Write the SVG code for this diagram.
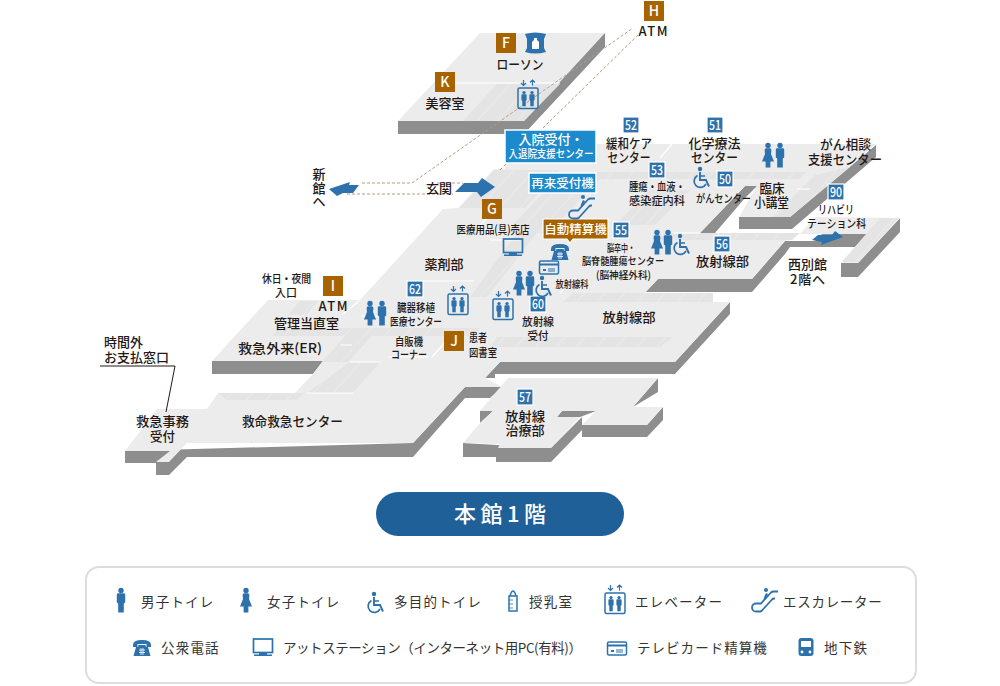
<svg xmlns="http://www.w3.org/2000/svg" xmlns:xlink="http://www.w3.org/1999/xlink" width="1000" height="686" viewBox="0 0 1000 686">
<style>
text{font-family:"Noto Sans CJK JP","Noto Sans",sans-serif;fill:#231815;font-weight:500;text-anchor:middle}
.t{font-size:13px}.s{font-size:11.5px}.xs{font-size:10.5px}
.f{fill:#ececec}.w{fill:#8e8e8e}.h{fill:url(#hatch)}.wl{stroke:#fff;stroke-width:1.2;fill:none}
.b{fill:#a66300;stroke:none}.n{fill:#2d72ad;stroke:#fff;stroke-width:1.2}
text.bt{fill:#fff;font-size:14px}text.nt{fill:#fff;font-size:13.5px}
text.l{font-size:13.5px;letter-spacing:1.2px;text-anchor:start;font-weight:400;fill:#333}
.i{fill:#2d72ad}.is{fill:none;stroke:#2d72ad;stroke-width:1.5}
.d{fill:none;stroke:#b79b86;stroke-width:1;stroke-dasharray:3 2}
</style>
<defs>
<pattern id="hatch" width="15" height="15" patternUnits="userSpaceOnUse" patternTransform="rotate(42)">
<rect width="15" height="15" fill="#e4e4e4"/><path d="M0 0V15" stroke="#efefef" stroke-width="1.2"/>
</pattern>
<g id="man"><circle cy="-9.500" r="2.700" class="i"/><path class="i" d="M-4.200,-5.500Q-4.200,-6.800 -2.800,-6.800H2.800Q4.200,-6.800 4.200,-5.500V2.500L2.800,3.500V12.500H-2.800V3.500L-4.200,2.500Z"/></g>
<g id="woman"><circle cy="-9.500" r="2.700" class="i"/><path class="i" d="M-2,-6.800H2Q3,-6.800 3.400,-5L3,-1L6,6.500H2.400V12.500H-2.400V6.500H-6L-3,-1L-3.400,-5Q-3,-6.800 -2,-6.800Z"/></g>
<g id="wc"><circle cx="-2" cy="-9" r="2.200" class="i"/><path class="is" style="stroke-width:1.900" d="M-2,-6V2H4L7,8.500"/><path class="is" d="M-2,-2H3"/><path class="is" style="stroke-width:1.700" d="M-4.500,-2.500A6.300,6.300 0 1 0 4,6"/></g>
<g id="elev"><rect x="-10" y="-10" width="20" height="20.500" rx="1.500" class="is"/><path class="is" style="stroke-width:1.200" d="M-4.500,-18V-12.500M-7,-15L-4.500,-12.500L-2,-15M4.500,-12.500V-18M2,-15.500L4.500,-18L7,-15.500"/><use xlink:href="#man" transform="translate(-4,0.500) scale(.62)"/><use xlink:href="#man" transform="translate(4,0.500) scale(.62)"/></g>
<g id="esc"><circle cx="1" cy="-10" r="2" class="i"/><path class="is" style="stroke-width:1.800" d="M13,-8.500H8.500Q7,-8.500 6,-7.500L-4,3.500H-9A4,4 0 0 0 -9,11.500H-5Q-4,11.500 -3,10.500L7,-0.500Q8,-1.500 9,-1.500H10"/><path class="i" d="M-1.500,-1.500L1,-7L3,-6L0.500,-0.500Z"/></g>
<g id="phone"><path class="i" d="M-9,-3Q-9,-8 0,-8Q9,-8 9,-3V-1H4.500V-4H-4.500V-1H-9Z"/><path class="i" d="M-6,-1H-4L-3.500,-3H3.500L4,-1H6L8.500,8H-8.500Z"/><path d="M-3,2H3M-3,4.500H3M-1,0V7M1,0V7" stroke="#fff" stroke-width=".8"/></g>
<g id="mon"><rect x="-9.500" y="-8" width="19" height="13.500" class="is" style="stroke-width:1.700"/><path class="i" d="M-4,6H4V7.500H9V9H-9V7.500H-4Z"/></g>
<g id="card"><rect x="-9.500" y="-6" width="19" height="13" rx="1.500" class="is"/><path class="i" d="M-9.500,-3.500H9.500V-1.500H-9.500ZM-6,2H-3V4H-6ZM-1,1.500H6V2.500H-1ZM-1,3.500H6V4.500H-1Z"/></g>
</defs>

<g id="floors">
<polygon class="w" points="398,121 398,134 524,134 605,47 605,33"/>
<polygon class="f" points="480,33 605,33 524,121 398,121"/>
<polygon class="h" points="463,121 497,84 560,84 524,121"/>
<path class="wl" d="M455,83H560"/>

<polygon class="w" points="212,361 212,374 313,374 323,361"/>
<polygon class="w" points="125,451 125,463 156,463 156,475 169,475 187,457 413,457 465,398 490,398 502,387 465,387 413,443"/>
<polygon class="w" points="485,378 485,378 495,378 495,374 675,374 730,314 730,302 675,362 500,362"/>
<polygon class="w" points="645,292 752,292 785,254 790,247 855,247 867,234 822,234 815,241 785,241 752,279 658,279"/>
<polygon class="w" points="858,263 858,277 841,277 841,263"/>
<polygon class="w" points="858,277 900,232 900,218 858,263"/>
<polygon class="w" points="700,233 745,186 757,186 745,198 715,233"/>
<polygon class="w" points="739,217 739,229 792,229 876,157 876,145 790,217"/>

<polygon class="f" points="495,169 505,169 505,144 807,144 876,144 790,217 739,217 757,186 745,186 700,233 800,233 785,241 752,279 658,279 645,293 713,293 713,302 730,302 675,362 500,362 485,378 502,387 465,387 413,443 187,443 169,462 156,462 170,451 125,451 157,409 207,409 218,393 295,393 313,374 323,361 212,361 268,300 360,300 443,209 458,208"/>
<polygon class="f" points="815,217 900,218 858,263 841,263 867,234 800,234"/>

<polygon class="h" points="493,170 560,170 525,208 459,208"/>
<polygon class="h" points="510,172 806,172 800,179 503,179"/>
<polygon class="h" points="560,175 604,175 548,233 505,233"/>
<polygon class="h" points="650,190 690,190 655,225 615,225"/>
<polygon class="h" points="537,233 517,233 470,297 487,297"/>
<polygon class="h" points="573,293 713,293 713,302 563,302"/>
<polygon class="h" points="497,337 673,337 660,347 490,347"/>
<polygon class="h" points="280,328 480,328 472,336 272,336"/>
<polygon class="h" points="300,301 318,301 306,315 288,315"/>
<polygon class="h" points="350,362 381,362 353,393 307,393"/>
<polygon class="h" points="218,393 304,393 296,400 227,400"/>
<polygon class="h" points="345,336 372,336 348,362 322,362"/>
<polygon class="h" points="665,233 800,233 792,240 658,240"/>
<polygon class="h" points="880,218 898,218 858,262 842,262"/>
<polygon class="h" points="815,175 850,167 790,217 772,217"/>
<path class="wl" d="M307,393H353M350,362H381M672,144L660,158M797,189H810M340,345H352M342,315L360,300M361,316H384M420,281H474M432,357L447,340H464M428,357H388M400,358L412,346M490,240H520M480,225L495,211M560,293L575,278M673,233H700"/>

<polygon class="w" points="658,378 658,392 633,407"/>
<polygon class="w" points="480,411 480,423 493,411"/>
<polygon class="w" points="463,443 463,457 496,457 496,462 551,462 582,430 582,417 551,448"/>
<polygon class="w" points="562,411 596,411 580,417 557,417"/>
<polygon class="w" points="582,425 582,437 647,437 663,420 663,407 647,425"/>
<polygon class="f" points="508,378 658,378 633,407 663,407 647,425 582,425 596,411 562,411 557,417 580,417 551,448 498,448 500,444 463,443 480,423 493,411 480,411"/>
</g>

<g id="connectors">
<path class="d" d="M362,183H412L633,28"/>
<path class="d" d="M347,194H453"/>
<path class="d" d="M437,183H463"/>
<path class="d" d="M500,170L640,33"/>
<path fill="none" stroke="#231815" stroke-width="1" d="M100,366H175L166,412"/>
</g>

<g id="arrows">
<polygon class="i" points="329,189 350,182 349,185 359,185 353,193 343,193 337,196"/>
<polygon class="i" points="455,192 464,183 478,183 482,178 495,187 481,197 477,192"/>
<polygon class="i" points="812,240 818,235 832,235 835,231 843,237 821,245 822,242"/>
</g>

<g id="node-F"><rect class="b" x="496" y="33" width="20" height="20"/><text class="bt" x="506" y="48">F</text>
<path class="i" d="M525,34Q535,31 546,34L544,39V48L546,52Q535,55 525,52L527,48V39Z"/><path fill="#fff" d="M534,38H537V40L539,42V49H532V42L534,40Z"/>
<text class="t" x="520" y="69" textLength="47" lengthAdjust="spacingAndGlyphs">ローソン</text></g>
<g id="node-K"><rect class="b" x="435" y="72" width="20" height="20"/><text class="bt" x="445" y="87">K</text><text class="t" x="445" y="108">美容室</text></g>
<g id="node-H"><rect class="b" x="644" y="1" width="20" height="20"/><text class="bt" x="654" y="16">H</text><text class="t" x="653" y="36" textLength="29">ATM</text></g>
<use id="elev-top" xlink:href="#elev" transform="translate(528,98)"/>
<g id="node-shinkan"><text class="t" x="319" y="179">新</text><text class="t" x="319" y="193">館</text><text class="t" x="319" y="206">へ</text></g>
<g id="node-genkan"><text class="t" x="439" y="193">玄関</text></g>

<g id="node-nyuin"><rect x="505" y="130" width="91" height="33" fill="#1c8acb" stroke="#fff" stroke-width="1.500"/><text class="bt" x="551" y="144" style="font-size:13px">入院受付・</text><text class="bt" x="551" y="158" style="font-size:11px" textLength="85" lengthAdjust="spacingAndGlyphs">入退院支援センター</text></g>
<g id="node-sairai"><rect x="529" y="173" width="67" height="20" fill="#1c8acb" stroke="#fff" stroke-width="1.500"/><text class="bt" x="562.500" y="188" style="font-size:12.500px">再来受付機</text></g>
<g id="node-jido"><path d="M543,219H608V239H573L570,243L567,239H543Z" fill="#a66300" stroke="#fff" stroke-width="1.200"/><text class="bt" x="575.500" y="234" style="font-size:12.500px">自動精算機</text></g>
<use id="esc-main" xlink:href="#esc" transform="translate(582,207)"/>

<g id="node-52"><rect class="n" x="623" y="117" width="16" height="16"/><text class="nt" x="631" y="130" textLength="12" lengthAdjust="spacingAndGlyphs">52</text><text class="t" x="629" y="148" textLength="46" lengthAdjust="spacingAndGlyphs">緩和ケア</text><text class="t" x="629" y="162" textLength="43" lengthAdjust="spacingAndGlyphs">センター</text></g>
<g id="node-51"><rect class="n" x="707" y="117" width="16" height="16"/><text class="nt" x="715" y="130" textLength="12" lengthAdjust="spacingAndGlyphs">51</text><text class="t" x="714.500" y="148" textLength="52" lengthAdjust="spacingAndGlyphs">化学療法</text><text class="t" x="714.500" y="162" textLength="47" lengthAdjust="spacingAndGlyphs">センター</text></g>
<g id="node-53"><rect class="n" x="649" y="162" width="16" height="16"/><text class="nt" x="657" y="175" textLength="12" lengthAdjust="spacingAndGlyphs">53</text><text class="s" x="657" y="191" textLength="56" lengthAdjust="spacingAndGlyphs">腫瘍・血液・</text><text class="s" x="657" y="205" textLength="56" lengthAdjust="spacingAndGlyphs">感染症内科</text></g>
<g id="node-50"><rect class="n" x="717" y="171" width="16" height="16"/><text class="nt" x="725" y="184" textLength="12" lengthAdjust="spacingAndGlyphs">50</text><text class="s" x="723.500" y="203" textLength="55" lengthAdjust="spacingAndGlyphs">がんセンター</text></g>
<g id="node-rinsho"><text class="t" x="772" y="193" textLength="25" lengthAdjust="spacingAndGlyphs">臨床</text><text class="t" x="771.500" y="207" textLength="35" lengthAdjust="spacingAndGlyphs">小講堂</text></g>
<g id="node-soudan"><text class="t" x="845.500" y="149" textLength="51" lengthAdjust="spacingAndGlyphs">がん相談</text><text class="t" x="845" y="164" textLength="74" lengthAdjust="spacingAndGlyphs">支援センター</text></g>
<g id="node-90"><rect class="n" x="828" y="184" width="16" height="16"/><text class="nt" x="836" y="197" textLength="12" lengthAdjust="spacingAndGlyphs">90</text><text class="s" x="836" y="214" textLength="36" lengthAdjust="spacingAndGlyphs">リハビリ</text><text class="s" x="836.500" y="228" textLength="59" lengthAdjust="spacingAndGlyphs">テーション科</text></g>
<g id="node-56"><rect class="n" x="714" y="236" width="16" height="16"/><text class="nt" x="722" y="249" textLength="12" lengthAdjust="spacingAndGlyphs">56</text><text class="t" x="722.500" y="266" textLength="53" lengthAdjust="spacingAndGlyphs">放射線部</text></g>
<g id="node-nishi"><text class="t" x="807.500" y="269" textLength="39" lengthAdjust="spacingAndGlyphs">西別館</text><text class="t" x="807.500" y="284" textLength="35">2階へ</text></g>
<g id="node-55"><rect class="n" x="613" y="222" width="16" height="16"/><text class="nt" x="621" y="235" textLength="12" lengthAdjust="spacingAndGlyphs">55</text><text class="xs" x="621" y="252" textLength="28" lengthAdjust="spacingAndGlyphs">脳卒中・</text><text class="xs" x="623" y="265" textLength="82" lengthAdjust="spacingAndGlyphs">脳脊髄腫瘍センター</text><text class="xs" x="623.500" y="279" textLength="55" lengthAdjust="spacingAndGlyphs">(脳神経外科)</text></g>
<g id="node-G"><rect class="b" x="482" y="199" width="20" height="20"/><text class="bt" x="492" y="214">G</text><text class="s" x="493" y="234" textLength="73" lengthAdjust="spacingAndGlyphs">医療用品(具)売店</text></g>
<g id="node-yakuzai"><text class="t" x="444" y="269">薬剤部</text></g>
<g id="node-hoshaka"><text class="xs" x="572" y="288" textLength="33" lengthAdjust="spacingAndGlyphs">放射線科</text></g>
<g id="node-62"><rect class="n" x="407" y="281" width="16" height="16"/><text class="nt" x="415" y="294" textLength="12" lengthAdjust="spacingAndGlyphs">62</text><text class="s" x="416" y="312" textLength="38" lengthAdjust="spacingAndGlyphs">臓器移植</text><text class="s" x="416" y="326" textLength="52" lengthAdjust="spacingAndGlyphs">医療センター</text></g>
<g id="node-60"><rect class="n" x="530" y="296" width="16" height="16"/><text class="nt" x="538" y="309" textLength="12" lengthAdjust="spacingAndGlyphs">60</text><text class="s" x="538" y="326" textLength="32" lengthAdjust="spacingAndGlyphs">放射線</text><text class="s" x="538" y="340" textLength="21" lengthAdjust="spacingAndGlyphs">受付</text></g>
<g id="node-hosha"><text class="t" x="629" y="322" textLength="53" lengthAdjust="spacingAndGlyphs">放射線部</text></g>
<g id="node-jihan"><text class="s" x="409" y="346" textLength="28" lengthAdjust="spacingAndGlyphs">自販機</text><text class="s" x="409" y="359" textLength="36" lengthAdjust="spacingAndGlyphs">コーナー</text></g>
<g id="node-J"><rect class="b" x="444" y="331" width="20" height="20"/><text class="bt" x="454" y="346">J</text><text class="s" x="478" y="342" textLength="18" lengthAdjust="spacingAndGlyphs">患者</text><text class="s" x="483" y="357" textLength="28" lengthAdjust="spacingAndGlyphs">図書室</text></g>
<g id="node-I"><rect class="b" x="323" y="276" width="20" height="20"/><text class="bt" x="333" y="291">I</text><text class="t" x="333" y="311" textLength="29">ATM</text></g>
<g id="node-kyujitsu"><text class="s" x="286.500" y="283" textLength="49" lengthAdjust="spacingAndGlyphs">休日・夜間</text><text class="s" x="286" y="297" textLength="22" lengthAdjust="spacingAndGlyphs">入口</text></g>
<g id="node-kanri"><text class="t" x="306.500" y="328" textLength="65" lengthAdjust="spacingAndGlyphs">管理当直室</text></g>
<g id="node-er"><text class="t" x="280" y="353" textLength="84" lengthAdjust="spacingAndGlyphs">救急外来(ER)</text></g>
<g id="node-jikangai"><text class="t" x="123.500" y="347" textLength="39" lengthAdjust="spacingAndGlyphs">時間外</text><text class="t" x="136.500" y="362" textLength="65" lengthAdjust="spacingAndGlyphs">お支払窓口</text></g>
<g id="node-kyukyu"><text class="t" x="162.500" y="426" textLength="53" lengthAdjust="spacingAndGlyphs">救急事務</text><text class="t" x="162.500" y="441" textLength="25" lengthAdjust="spacingAndGlyphs">受付</text></g>
<g id="node-kyumei"><text class="t" x="292.500" y="426" textLength="101" lengthAdjust="spacingAndGlyphs">救命救急センター</text></g>
<g id="node-57"><rect class="n" x="517" y="389" width="16" height="16"/><text class="nt" x="525" y="402" textLength="12" lengthAdjust="spacingAndGlyphs">57</text><text class="t" x="525" y="421" textLength="40" lengthAdjust="spacingAndGlyphs">放射線</text><text class="t" x="525" y="435" textLength="39" lengthAdjust="spacingAndGlyphs">治療部</text></g>

<g id="icons">
<use xlink:href="#woman" transform="translate(768,155)"/><use xlink:href="#man" transform="translate(780,155)"/>
<use xlink:href="#woman" transform="translate(657,242)"/><use xlink:href="#man" transform="translate(668,242)"/><use xlink:href="#wc" transform="translate(682,245)"/>
<use xlink:href="#woman" transform="translate(519,283)"/><use xlink:href="#man" transform="translate(530,283)"/><use xlink:href="#wc" transform="translate(544,287)"/>
<use xlink:href="#woman" transform="translate(370,313)"/><use xlink:href="#man" transform="translate(382,313)"/>
<use xlink:href="#wc" transform="translate(702,178)"/>
<use xlink:href="#elev" transform="translate(458,304)"/><use xlink:href="#elev" transform="translate(503,309)"/>
<use xlink:href="#phone" transform="translate(560,252)"/><use xlink:href="#mon" transform="translate(513,247)"/><use xlink:href="#card" transform="translate(549,267)"/>
</g>

<g id="title"><rect x="376" y="492" width="248" height="44" rx="22" fill="#1f6099"/><text x="500" y="522" style="fill:#fff;font-size:22px" textLength="92">本館1階</text></g>

<g id="legend">
<rect x="86" y="567" width="830" height="116" rx="13" fill="#fff" stroke="#ddd" stroke-width="2"/>
<use xlink:href="#man" transform="translate(121,600)"/><text class="l" x="141" y="607">男子トイレ</text>
<use xlink:href="#woman" transform="translate(246,600)"/><text class="l" x="267" y="607">女子トイレ</text>
<use xlink:href="#wc" transform="translate(376,603)"/><text class="l" x="394" y="607">多目的トイレ</text>
<g transform="translate(513,600)"><path class="is" d="M-3,-4L-2,-7Q0,-11 2,-7L3,-4M-4,-4H4V11H-4Z"/><path class="is" style="stroke-width:.8" d="M-4,0H0M-4,4H0M-4,8H0"/></g><text class="l" x="529" y="607">授乳室</text>
<use xlink:href="#elev" transform="translate(615,603)"/><text class="l" x="635" y="607">エレベーター</text>
<use xlink:href="#esc" transform="translate(765,600)"/><text class="l" x="783" y="607" textLength="100">エスカレーター</text>
<use xlink:href="#phone" transform="translate(142,648)"/><text class="l" x="161" y="653">公衆電話</text>
<use xlink:href="#mon" transform="translate(263,647)"/><text class="l" x="283" y="653" textLength="299" style="letter-spacing:0">アットステーション（インターネット用PC(有料)）</text>
<use xlink:href="#card" transform="translate(617,648)"/><text class="l" x="637" y="653" textLength="131">テレビカード精算機</text>
<g transform="translate(806,647)"><rect x="-7.500" y="-9" width="15" height="18" rx="3" class="i"/><rect x="-5" y="-6" width="10" height="6" fill="#fff"/><circle cx="-4" cy="5" r="1.400" fill="#fff"/><circle cx="4" cy="5" r="1.400" fill="#fff"/></g><text class="l" x="824" y="653">地下鉄</text>
</g>
</svg>
